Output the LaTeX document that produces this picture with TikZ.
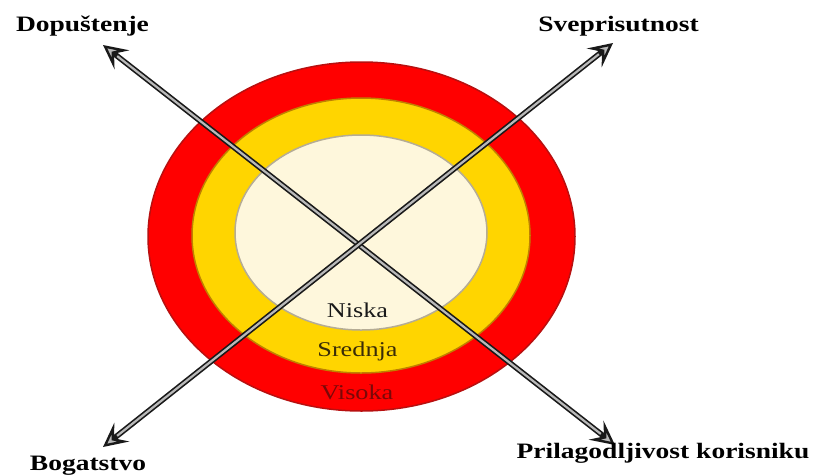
\documentclass[tikz,border=0pt]{standalone}
\usepackage{fontspec}
\setmainfont{Liberation Serif}
\newfontfamily\lblfont[FakeStretch=1.25]{Liberation Serif}
\usetikzlibrary{shapes.geometric, arrows.meta, positioning}

\definecolor{ringred}{HTML}{FF0000}
\definecolor{ringredline}{HTML}{B81010}
\definecolor{ringyellow}{HTML}{FFD500}
\definecolor{ringyellowline}{HTML}{C08000}
\definecolor{ringcream}{HTML}{FEF7DC}
\definecolor{ringcreamline}{HTML}{B5AC95}
\definecolor{levelred}{HTML}{7A0808}
\definecolor{levelbrown}{HTML}{3A2C08}

\begin{document}
\begin{tikzpicture}[x=1pt, y=-1pt,
          ring/.style={ellipse, inner sep=0pt, line width=1.5pt},
          axislabel/.style={font=\lblfont\bfseries\fontsize{22}{26}\selectfont, anchor=base, inner sep=0pt},
          levellabel/.style={font=\lblfont\fontsize{21}{25}\selectfont, anchor=base, inner sep=0pt},
          tip/.tip={Stealth[length=24pt, width=24pt, inset=10pt, line width=2.4pt, fill=gray!55]},
          arrow/.style={tip-tip, draw=black!90, line width=5.5pt,
                        postaction={draw=gray!55, line width=2.2pt, -, shorten <=18pt, shorten >=18pt}}]
        \useasboundingbox (0,0) rectangle (817,475);

        % rings
        \node [ring, draw=ringredline, fill=ringred, minimum width=427, minimum height=349] (outer) at (361.5,236.5) {};
        \node [ring, draw=ringyellowline, fill=ringyellow, minimum width=338, minimum height=275] (middle) at (361,235.5) {};
        \node [ring, draw=ringcreamline, fill=ringcream, minimum width=252, minimum height=195] (inner) at (361,232.5) {};

        % axes
        \coordinate (tl) at (103,45);
        \coordinate (br) at (615,445);
        \coordinate (bl) at (103,447);
        \coordinate (tr) at (613,43);
        \draw [arrow] (tl) -- (br);
        \draw [arrow] (bl) -- (tr);

        \node [axislabel] (dop) at (82.5,31) {Dopuštenje};
        \node [axislabel] (sve) at (618.5,31) {Sveprisutnost};
        \node [axislabel] (bog) at (88,470.5) {Bogatstvo};
        \node [axislabel] (pri) at (663,458) {Prilagodljivost korisniku};

        % levels
        \node [levellabel, text=black!90] (niska) at (357.5,317) {Niska};
        \node [levellabel, text=levelbrown] (srednja) at (357.5,356) {Srednja};
        \node [levellabel, text=levelred] (visoka) at (357,399) {Visoka};
      \end{tikzpicture}
\end{document}
